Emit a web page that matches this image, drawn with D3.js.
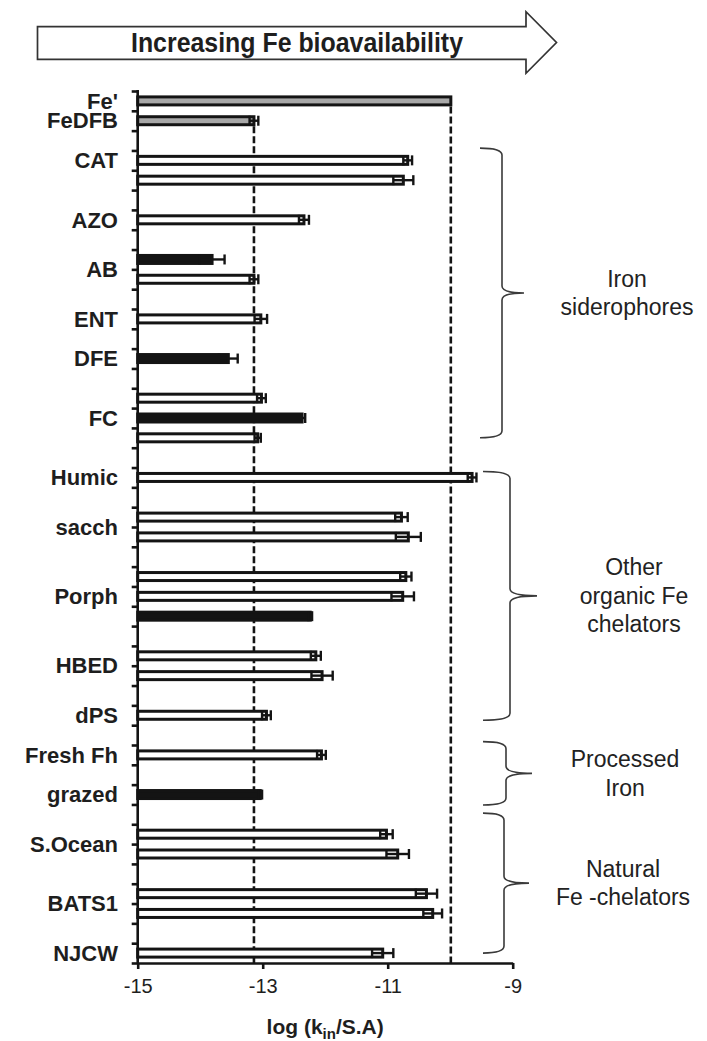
<!DOCTYPE html>
<html>
<head>
<meta charset="utf-8">
<script src="https://cdn.jsdelivr.net/npm/d3@7"></script>
<style>
  html, body { margin: 0; padding: 0; background: #fff; }
  svg { display: block; font-family: "Liberation Sans", Arial, Helvetica, sans-serif; }
</style>
</head>
<body>
<svg id="chart" width="707" height="1041"></svg>
<script>
// ---- Row slots down the y axis (ids starting with "_" are spacer rows) ----
const rowSlots = ["Fe'", "FeDFB", "_1", "CAT-1", "CAT-2", "_2", "AZO", "_3", "AB-1", "AB-2", "_4",
  "ENT", "_5", "DFE", "_6", "FC-1", "FC-2", "FC-3", "_7", "Humic", "_8", "sacch-1", "sacch-2", "_9",
  "Porph-1", "Porph-2", "Porph-3", "_10", "HBED-1", "HBED-2", "_11", "dPS", "_12", "Fresh Fh", "_13",
  "grazed", "_14", "S.Ocean-1", "S.Ocean-2", "_15", "BATS1-1", "BATS1-2", "_16", "NJCW"];

// ---- Bars: log(k_in / S.A) with error, and bar kind (reference / open / solid) ----
const barRows = ["Fe'", "FeDFB", "CAT-1", "CAT-2", "AZO", "AB-1", "AB-2", "ENT", "DFE", "FC-1", "FC-2", "FC-3",
  "Humic", "sacch-1", "sacch-2", "Porph-1", "Porph-2", "Porph-3", "HBED-1", "HBED-2", "dPS",
  "Fresh Fh", "grazed", "S.Ocean-1", "S.Ocean-2", "BATS1-1", "BATS1-2", "NJCW"];
const barValues = [-9.99, -13.14, -10.68, -10.75, -12.34, -13.81, -13.14, -13.03, -13.55, -13.02, -12.37, -13.08,
  -9.65, -10.78, -10.67, -10.71, -10.76, -12.24, -12.15, -12.05, -12.94,
  -12.06, -13.04, -11.02, -10.84, -10.38, -10.28, -11.08];
const barErrors = [0, 0.07, 0.07, 0.16, 0.08, 0.2, 0.07, 0.1, 0.15, 0.07, 0.05, 0.05,
  0.07, 0.1, 0.2, 0.09, 0.18, 0.03, 0.08, 0.17, 0.07,
  0.07, 0.03, 0.1, 0.18, 0.17, 0.15, 0.17];
const barKinds = ["ref", "ref", "open", "open", "open", "solid", "open", "open", "solid", "open", "solid", "open",
  "open", "open", "open", "open", "open", "solid", "open", "open", "open",
  "open", "solid", "open", "open", "open", "open", "open"];

// ---- Category labels and the rows each one sits against ----
const labelNames = ["Fe'", "FeDFB", "CAT", "AZO", "AB", "ENT", "DFE", "FC", "Humic", "sacch", "Porph",
  "HBED", "dPS", "Fresh Fh", "grazed", "S.Ocean", "BATS1", "NJCW"];
const labelRows = [["Fe'"], ["FeDFB"], ["CAT-1"], ["AZO"], ["AB-1", "AB-2"], ["ENT"], ["DFE"], ["FC-2"],
  ["Humic"], ["sacch-1", "sacch-2"], ["Porph-2"], ["HBED-1", "HBED-2"], ["dPS"], ["Fresh Fh"], ["grazed"],
  ["S.Ocean-1", "S.Ocean-2"], ["BATS1-1", "BATS1-2"], ["NJCW"]];

// ---- Group braces (span in row-slot units) ----
const groupNames = [["Iron", "siderophores"], ["Other", "organic Fe", "chelators"], ["Processed", "Iron"], ["Natural", "Fe -chelators"]];
const groupSpans = [[2.88, 17.5], [19.2, 31.75], [32.83, 36.03], [36.44, 43.5]];

// ---- Axis ticks ----
const xTicks = [-15, -13, -11, -9];
const xDomain = [-15, -9];

// ---- Layout ----
const plotLeft = 137.7, plotRight = 512.7, plotTop = 91, plotBottom = 963;
const barHalf = 4, capHalf = 5;
const braceLayout = [
  { x: 502, hook: 22, tip: 22, textX: 627 },
  { x: 510, hook: 27, tip: 27, textX: 634 },
  { x: 506, hook: 23, tip: 26, textX: 625 },
  { x: 504, hook: 21, tip: 25, textX: 623 }
];
const ink = "#141414";

const svg = d3.select("#chart");

// Scales
const x = d3.scaleLinear().domain(xDomain).range([plotLeft, plotRight]);
const slot = d3.scaleLinear().domain([0, rowSlots.length]).range([plotTop, plotBottom]);
const band = d3.scaleBand().domain(rowSlots).range([plotTop, plotBottom]).padding(0);
const cy = id => band(id) + band.bandwidth() / 2;

// ---- Header arrow ----
const arrow = { x0: 37.5, x1: 526, tip: 556.5, top: 26.7, bottom: 59.3, headTop: 11.7, headBottom: 73.3 };
const midY = (arrow.headTop + arrow.headBottom) / 2;
svg.append("path")
  .attr("d", `M${arrow.x0},${arrow.top}L${arrow.x1},${arrow.top}L${arrow.x1},${arrow.headTop}L${arrow.tip},${midY}` +
    `L${arrow.x1},${arrow.headBottom}L${arrow.x1},${arrow.bottom}L${arrow.x0},${arrow.bottom}Z`)
  .attr("fill", "#fff").attr("stroke", "#333").attr("stroke-width", 1.7).attr("stroke-linejoin", "miter");
svg.append("text")
  .attr("x", 131).attr("y", 51.5)
  .attr("textLength", 332).attr("lengthAdjust", "spacingAndGlyphs")
  .attr("font-size", 27).attr("font-weight", "bold").attr("fill", "#1e1e1e")
  .text("Increasing Fe bioavailability");

// ---- Reference dashed lines at Fe' and FeDFB ----
["Fe'", "FeDFB"].forEach(id => {
  const i = barRows.indexOf(id);
  svg.append("line")
    .attr("x1", x(barValues[i])).attr("x2", x(barValues[i]))
    .attr("y1", cy(id) + barHalf + 1.5).attr("y2", plotBottom)
    .attr("stroke", ink).attr("stroke-width", 2.6).attr("stroke-dasharray", "7,3");
});

// ---- Bars ----
const bars = barRows.map((id, i) => ({ id, v: barValues[i], e: barErrors[i], kind: barKinds[i] }));
const fillFor = k => k === "solid" ? ink : (k === "ref" ? "#a8a8a8" : "#fff");

svg.append("g").selectAll("rect").data(bars).join("rect")
  .attr("x", x(xDomain[0]))
  .attr("y", d => cy(d.id) - barHalf)
  .attr("width", d => x(d.v) - x(xDomain[0]))
  .attr("height", barHalf * 2)
  .attr("fill", d => fillFor(d.kind))
  .attr("stroke", ink).attr("stroke-width", 3);

// ---- Error bars ----
const eg = svg.append("g").attr("stroke", ink).attr("stroke-width", 2.4);
bars.filter(d => d.e > 0).forEach(d => {
  const y0 = cy(d.id), a = x(d.v - d.e), b = x(d.v + d.e);
  eg.append("line").attr("x1", a).attr("x2", b).attr("y1", y0).attr("y2", y0);
  eg.append("line").attr("x1", a).attr("x2", a).attr("y1", y0 - capHalf).attr("y2", y0 + capHalf);
  eg.append("line").attr("x1", b).attr("x2", b).attr("y1", y0 - capHalf).attr("y2", y0 + capHalf);
});

// ---- Axes ----
const yAxis = svg.append("g").attr("transform", `translate(${plotLeft},0)`)
  .call(d3.axisLeft(slot).tickValues(d3.range(rowSlots.length + 1)).tickFormat("").tickSize(6).tickSizeOuter(0));
const xAxis = svg.append("g").attr("transform", `translate(0,${plotBottom})`)
  .call(d3.axisBottom(x).tickValues(xTicks).tickFormat(d3.format("d")).tickSize(6).tickSizeOuter(0).tickPadding(10));
[yAxis, xAxis].forEach(g => {
  g.select(".domain").attr("stroke", ink).attr("stroke-width", 2.6);
  g.selectAll(".tick line").attr("stroke", ink).attr("stroke-width", 2.6);
});
yAxis.select(".domain").attr("d", `M0,${plotTop - 1}V${plotBottom + 1}`);
xAxis.selectAll(".tick text")
  .attr("font-family", "'Liberation Sans', Arial, sans-serif")
  .attr("font-size", 20).attr("fill", "#1e1e1e")
  .text(d => d < 0 ? "-" + Math.abs(d) : d);

// x axis title with subscript
const title = svg.append("text")
  .attr("x", x(-12)).attr("y", 1033.5).attr("text-anchor", "middle")
  .attr("font-size", 21).attr("font-weight", "bold").attr("fill", "#1e1e1e");
title.append("tspan").text("log (k");
title.append("tspan").attr("font-size", 15).attr("dy", 5).text("in");
title.append("tspan").attr("dy", -5).text("/S.A)");

// ---- Category labels ----
svg.append("g").selectAll("text").data(labelNames).join("text")
  .attr("x", 118)
  .attr("y", (d, i) => d3.mean(labelRows[i], cy))
  .attr("dy", "0.35em")
  .attr("text-anchor", "end")
  .attr("font-size", 22).attr("font-weight", "bold").attr("fill", "#1e1e1e")
  .text(d => d);

// ---- Group braces and their labels ----
function bracePath(xv, top, bottom, hook, tip) {
  const mid = (top + bottom) / 2, r = 7;
  return `M${xv - hook},${top}Q${xv},${top} ${xv},${top + r}` +
    `L${xv},${mid - r}Q${xv},${mid} ${xv + tip},${mid}` +
    `Q${xv},${mid} ${xv},${mid + r}` +
    `L${xv},${bottom - r}Q${xv},${bottom} ${xv - hook},${bottom}`;
}
groupNames.forEach((lines, i) => {
  const L = braceLayout[i];
  const top = slot(groupSpans[i][0]), bottom = slot(groupSpans[i][1]);
  const mid = (top + bottom) / 2;
  svg.append("path")
    .attr("d", bracePath(L.x, top, bottom, L.hook, L.tip))
    .attr("fill", "none").attr("stroke", "#3a3a3a").attr("stroke-width", 1.6);
  const lh = 28.5;
  const t = svg.append("text")
    .attr("text-anchor", "middle").attr("font-size", 23).attr("fill", "#222");
  lines.forEach((s, k) => {
    t.append("tspan")
      .attr("x", L.textX)
      .attr("y", mid + (k - (lines.length - 1) / 2) * lh)
      .attr("dy", "0.35em")
      .text(s);
  });
});
</script>
</body>
</html>
